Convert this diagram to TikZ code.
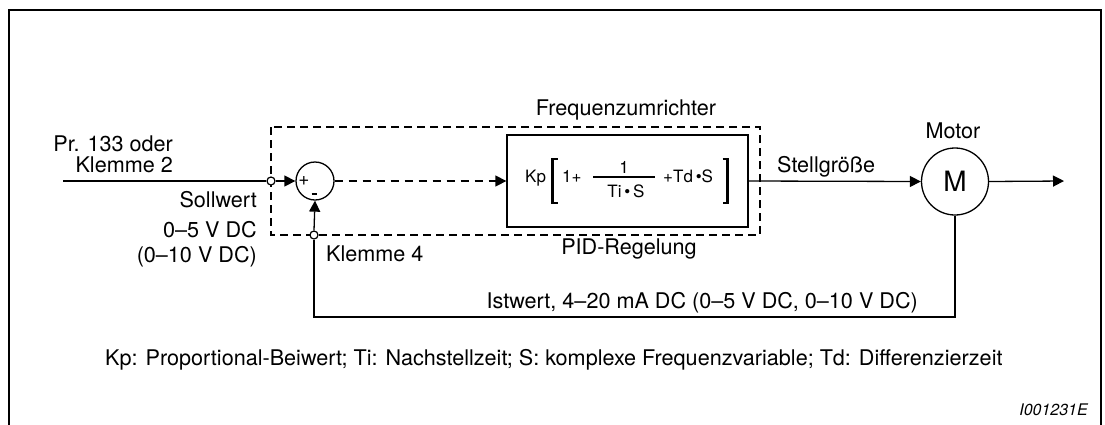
\documentclass[tikz,border=0pt]{standalone}
\usepackage{fontspec}
\setmainfont{TeX Gyre Heros}
\usetikzlibrary{arrows.meta}
\tikzset{
  ln/.style={line width=1.3pt, draw=black},
  tip/.style={-{Triangle[length=11pt,width=11pt]}},
  term/.style={circle, draw, line width=1.2pt, fill=white, inner sep=0pt, minimum size=8pt},
  dashbox/.style={line width=1.3pt, dash pattern=on 8pt off 5pt},
  lbl/.style={inner sep=0pt, font=\fontsize{21.6}{24}\selectfont},
  flbl/.style={inner sep=0pt, font=\fontsize{17}{20}\selectfont},
  brk/.style={line width=2.2pt}
}
\begin{document}
\begin{tikzpicture}[x=1pt,y=-1pt]
\useasboundingbox (0,0) rectangle (1105,424);
% outer frame (open at the bottom)
\draw[line width=2pt] (9,440) -- (9,10) -- (1101,10) -- (1101,440);
% Frequenzumrichter dashed box
\draw[dashbox] (271,127) rectangle (760,235);
% nodes
\coordinate (in) at (63,181);
\coordinate (out) at (1064,181);
\node[term] (tin) at (271,181) {};
\node[circle, ln, minimum size=38pt, inner sep=0pt] (sum) at (315,181) {};
\node[draw, line width=1.3pt, minimum width=241pt, minimum height=92pt, inner sep=0pt] (pid) at (627.5,181) {};
\node[circle, ln, minimum size=67pt, inner sep=0pt, font=\fontsize{28}{30}\selectfont] (motor) at (955,181.5) {M};
\node[term] (tfb) at (314,235) {};
\coordinate (fb) at (314,317);
% signs in summing point
\node[inner sep=0pt, font=\fontsize{19}{20}\selectfont] (plus) at (304,181) {+};
\draw[line width=1.2pt] (311.5,194) -- (316.5,194) node[coordinate] (minus) {};
% connectors
\draw[ln] (in) -- (tin.west);
\draw[ln, tip] (tin.east) -- (sum.west);
\draw[ln, dash pattern=on 8pt off 6pt, tip] (sum.east) -- (pid.west);
\draw[ln, tip] (pid.east) -- (motor.west);
\draw[ln, tip] (motor.east) -- (out);
\draw[ln] (motor.south) |- (fb) -- (tfb.south);
\draw[ln, tip] (tfb.north) -- (sum.south);
% formula
\node[flbl, anchor=base west] (kp) at (525,182) {Kp};
\draw[brk] (557.5,159) -- (552.5,159) -- (552.5,203) -- (557.5,203);
\node[flbl, anchor=base west] (one) at (562,182) {1+};
\draw[line width=1.3pt] (593,177) -- (655,177);
\node[flbl, anchor=base] (num) at (624,173) {1};
\node[flbl, anchor=base] (den) at (626,197) {Ti\,\textbullet\,S};
\node[flbl, anchor=base west] (td) at (663,182) {+Td\,\textbullet S};
\draw[brk] (722.5,159) -- (727.5,159) -- (727.5,203) -- (722.5,203);
% labels
\node[lbl, anchor=base east] (pr) at (173,151) {Pr. 133 oder};
\node[lbl, anchor=base east] (kl2) at (173,172) {Klemme 2};
\node[lbl, anchor=base east] (soll) at (257,207) {Sollwert};
\node[lbl, anchor=base east] (v5) at (257,237) {0–5 V DC};
\node[lbl, anchor=base east] (v10) at (257,262) {(0–10 V DC)};
\node[lbl, anchor=base west] (kl4) at (326,261) {Klemme 4};
\node[lbl, anchor=base] (fu) at (626,115) {Frequenzumrichter};
\node[lbl, anchor=base] (pidl) at (629,254) {PID-Regelung};
\node[lbl, anchor=base west] (stell) at (777,172) {Stellgröße};
\node[lbl, anchor=base] (mot) at (953,138) {Motor};
\node[lbl, anchor=base east] (ist) at (918,308) {Istwert, 4–20 mA DC (0–5 V DC, 0–10 V DC)};
\node[lbl, anchor=base west] (foot) at (105,365) {Kp: Proportional-Beiwert; Ti: Nachstellzeit; S: komplexe Frequenzvariable; Td: Differenzierzeit};
\node[inner sep=0pt, anchor=base east, font=\fontsize{16}{18}\selectfont\itshape] (id) at (1088,415) {I001231E};
\end{tikzpicture}
\end{document}
